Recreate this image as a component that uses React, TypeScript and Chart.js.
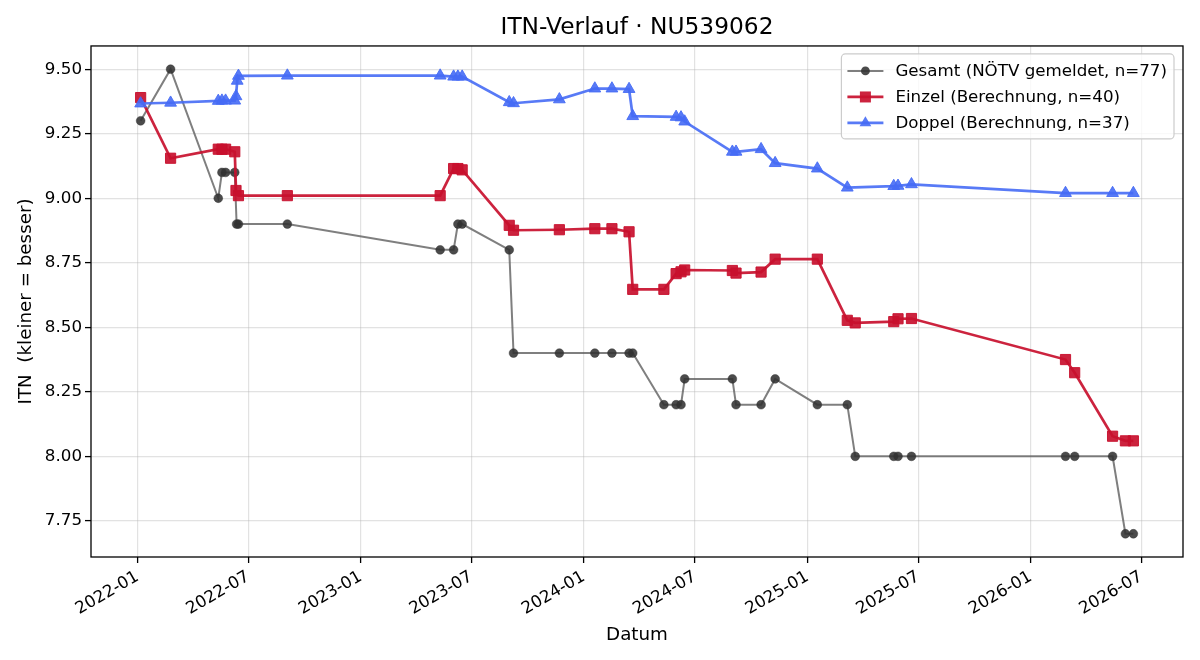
import React, { useEffect, useRef } from 'react';
import { Chart, registerables } from 'chart.js';

Chart.register(...registerables);

// ---------- data ----------
const gesamtDates = [
  '2022-01-06', '2022-02-24', '2022-05-13', '2022-05-19', '2022-05-25', '2022-06-09', '2022-06-12', '2022-06-15',
  '2022-09-03', '2023-05-11', '2023-06-02', '2023-06-09', '2023-06-16', '2023-09-01', '2023-09-08', '2023-11-22',
  '2024-01-19', '2024-02-16', '2024-03-15', '2024-03-21', '2024-05-11', '2024-05-31', '2024-06-08', '2024-06-14',
  '2024-08-31', '2024-09-06', '2024-10-17', '2024-11-09', '2025-01-17', '2025-03-07', '2025-03-20', '2025-05-22',
  '2025-05-29', '2025-06-20', '2026-02-27', '2026-03-14', '2026-05-15', '2026-06-05', '2026-06-18',
];
const gesamtValues = [
  9.3, 9.5, 9.0, 9.1, 9.1, 9.1, 8.9, 8.9,
  8.9, 8.8, 8.8, 8.9, 8.9, 8.8, 8.4, 8.4,
  8.4, 8.4, 8.4, 8.4, 8.2, 8.2, 8.2, 8.3,
  8.3, 8.2, 8.2, 8.3, 8.2, 8.2, 8.0, 8.0,
  8.0, 8.0, 8.0, 8.0, 8.0, 7.7, 7.7,
];

const einzelDates = [
  '2022-01-06', '2022-02-24', '2022-05-13', '2022-05-19', '2022-05-25', '2022-06-09', '2022-06-11', '2022-06-15',
  '2022-09-03', '2023-05-11', '2023-06-02', '2023-06-09', '2023-06-16', '2023-09-01', '2023-09-08', '2023-11-22',
  '2024-01-19', '2024-02-16', '2024-03-15', '2024-03-21', '2024-05-11', '2024-05-31', '2024-06-08', '2024-06-14',
  '2024-08-31', '2024-09-06', '2024-10-17', '2024-11-09', '2025-01-17', '2025-03-07', '2025-03-20', '2025-05-22',
  '2025-05-29', '2025-06-20', '2026-02-27', '2026-03-14', '2026-05-15', '2026-06-05', '2026-06-18',
];
const einzelValues = [
  9.39, 9.155, 9.19, 9.19, 9.19, 9.18, 9.03, 9.01,
  9.01, 9.01, 9.115, 9.115, 9.11, 8.895, 8.876, 8.878,
  8.882, 8.882, 8.87, 8.647, 8.647, 8.708, 8.715, 8.722,
  8.72, 8.71, 8.714, 8.764, 8.764, 8.527, 8.517, 8.522,
  8.533, 8.534, 8.375, 8.324, 8.078, 8.06, 8.06,
];

const doppelDates = [
  '2022-01-06', '2022-02-24', '2022-05-13', '2022-05-19', '2022-05-25', '2022-06-09', '2022-06-11', '2022-06-13',
  '2022-06-15', '2022-09-03', '2023-05-11', '2023-06-02', '2023-06-09', '2023-06-16', '2023-09-01', '2023-09-08',
  '2023-11-22', '2024-01-19', '2024-02-16', '2024-03-15', '2024-03-21', '2024-05-31', '2024-06-08', '2024-06-14',
  '2024-08-31', '2024-09-06', '2024-10-17', '2024-11-09', '2025-01-17', '2025-03-07', '2025-05-22', '2025-05-29',
  '2025-06-20', '2026-02-27', '2026-05-15', '2026-06-18',
];
const doppelValues = [
  9.367, 9.37, 9.377, 9.378, 9.378, 9.378, 9.395, 9.455,
  9.474, 9.475, 9.475, 9.471, 9.471, 9.471, 9.372, 9.368,
  9.383, 9.425, 9.425, 9.423, 9.318, 9.315, 9.313, 9.297,
  9.18, 9.18, 9.19, 9.136, 9.115, 9.041, 9.047, 9.048,
  9.054, 9.02, 9.02, 9.02,
];

const seriesLabels = [
  'Gesamt (NÖTV gemeldet, n=77)',
  'Einzel (Berechnung, n=40)',
  'Doppel (Berechnung, n=37)',
];

const xTickLabels = [
  '2022-01', '2022-07', '2023-01', '2023-07', '2024-01',
  '2024-07', '2025-01', '2025-07', '2026-01', '2026-07',
];
const yTickValues = [7.75, 8.0, 8.25, 8.5, 8.75, 9.0, 9.25, 9.5];

const titleText = 'ITN-Verlauf · NU539062';
const xTitle = 'Datum';
const yTitle = 'ITN  (kleiner = besser)';

// ---------- helpers ----------
const EPOCH = Date.UTC(2022, 0, 1);
function toDay(s: string): number {
  const [y, m, d] = s.split('-').map(Number);
  return (Date.UTC(y, m - 1, d || 1) - EPOCH) / 86400000;
}

const FONT = "'DejaVu Sans', 'Liberation Sans', sans-serif";
const GRID = 'rgba(176,176,176,0.36)';
const TICK_FS = 16.7;
const LABEL_FS = 18.3;
const TITLE_FS = 23.3;
const LEGEND_FS = 16.7;

const GRAY_LINE = 'rgba(95,95,95,0.8)';
const GRAY_PT = 'rgba(50,50,50,0.88)';
const RED = 'rgba(200,16,46,0.92)';
const BLUE = 'rgba(70,108,245,0.9)';

function drawMarker(ctx: CanvasRenderingContext2D, kind: string, x: number, y: number, color: string) {
  ctx.fillStyle = color;
  ctx.beginPath();
  if (kind === 'circle') {
    ctx.arc(x, y, 4.4, 0, Math.PI * 2);
  } else if (kind === 'rect') {
    ctx.rect(x - 5.5, y - 5.5, 11, 11);
  } else {
    const r = 6.8;
    ctx.moveTo(x, y - r);
    ctx.lineTo(x + r * Math.sin((2 * Math.PI) / 3), y - r * Math.cos((2 * Math.PI) / 3));
    ctx.lineTo(x + r * Math.sin((4 * Math.PI) / 3), y - r * Math.cos((4 * Math.PI) / 3));
    ctx.closePath();
  }
  ctx.fill();
}

const framePlugin = {
  id: 'frame',
  afterDatasetsDraw(chart: any) {
    const { ctx, chartArea: a } = chart;
    ctx.save();
    ctx.strokeStyle = '#000';
    ctx.lineWidth = 1.3;
    ctx.strokeRect(a.left, a.top, a.right - a.left, a.bottom - a.top);
    ctx.restore();
  },
};

const legendPlugin = {
  id: 'innerLegend',
  afterDatasetsDraw(chart: any) {
    const { ctx, chartArea: a } = chart;
    const styles = [
      { line: GRAY_LINE, pt: GRAY_PT, kind: 'circle', lw: 2 },
      { line: RED, pt: RED, kind: 'rect', lw: 2.7 },
      { line: BLUE, pt: BLUE, kind: 'triangle', lw: 2.7 },
    ];
    ctx.save();
    ctx.font = `${LEGEND_FS}px ${FONT}`;
    const textW = Math.max(...seriesLabels.map((t) => ctx.measureText(t).width));
    const w = 6 + 36 + 12 + textW + 7;
    const h = 85;
    const right = a.right - 9;
    const left = right - w;
    const top = a.top + 8;
    const r = 4;
    ctx.beginPath();
    ctx.moveTo(left + r, top);
    ctx.lineTo(right - r, top);
    ctx.arcTo(right, top, right, top + r, r);
    ctx.lineTo(right, top + h - r);
    ctx.arcTo(right, top + h, right - r, top + h, r);
    ctx.lineTo(left + r, top + h);
    ctx.arcTo(left, top + h, left, top + h - r, r);
    ctx.lineTo(left, top + r);
    ctx.arcTo(left, top, left + r, top, r);
    ctx.closePath();
    ctx.fillStyle = 'rgba(255,255,255,0.8)';
    ctx.fill();
    ctx.strokeStyle = '#cccccc';
    ctx.lineWidth = 1.2;
    ctx.stroke();
    seriesLabels.forEach((label, i) => {
      const y = top + 17 + i * 26;
      const s = styles[i];
      ctx.strokeStyle = s.line;
      ctx.lineWidth = s.lw;
      ctx.beginPath();
      ctx.moveTo(left + 6, y);
      ctx.lineTo(left + 42, y);
      ctx.stroke();
      drawMarker(ctx, s.kind, left + 24, y, s.pt);
      ctx.fillStyle = '#000';
      ctx.textAlign = 'left';
      ctx.textBaseline = 'middle';
      ctx.fillText(label, left + 54, y + 1);
    });
    ctx.restore();
  },
};

export default function App() {
  const ref = useRef<HTMLCanvasElement>(null);

  useEffect(() => {
    if (!ref.current) return;
    Chart.defaults.font.family = FONT;
    Chart.defaults.color = '#000';

    const gData = gesamtDates.map((d, i) => ({ x: toDay(d), y: gesamtValues[i] }));
    const eData = einzelDates.map((d, i) => ({ x: toDay(d), y: einzelValues[i] }));
    const dData = doppelDates.map((d, i) => ({ x: toDay(d), y: doppelValues[i] }));

    const allX = [...gData, ...eData, ...dData].map((p) => p.x);
    const allY = [...gData, ...eData, ...dData].map((p) => p.y);
    const xMin = Math.min(...allX), xMax = Math.max(...allX);
    const yMin = Math.min(...allY), yMax = Math.max(...allY);
    const xPad = (xMax - xMin) * 0.05;
    const yPad = (yMax - yMin) * 0.05;
    const xTickDays = xTickLabels.map((l) => toDay(l + '-01'));

    const chart = new Chart(ref.current, {
      type: 'line',
      data: {
        datasets: [
          {
            label: seriesLabels[0],
            data: gData,
            borderColor: GRAY_LINE,
            borderWidth: 2,
            pointStyle: 'circle',
            pointRadius: 4.4,
            pointBackgroundColor: GRAY_PT,
            pointBorderColor: GRAY_PT,
            pointBorderWidth: 0.5,
            tension: 0,
            order: 3,
          },
          {
            label: seriesLabels[1],
            data: eData,
            borderColor: RED,
            borderWidth: 2.7,
            pointStyle: 'rect',
            pointRadius: 7.2,
            pointBackgroundColor: RED,
            pointBorderColor: RED,
            pointBorderWidth: 1,
            tension: 0,
            order: 2,
          },
          {
            label: seriesLabels[2],
            data: dData,
            borderColor: BLUE,
            borderWidth: 2.7,
            pointStyle: 'triangle',
            pointRadius: 6.8,
            pointBackgroundColor: BLUE,
            pointBorderColor: BLUE,
            pointBorderWidth: 1,
            tension: 0,
            order: 1,
          },
        ],
      },
      options: {
        responsive: false,
        animation: false,
        events: [],
        layout: { padding: { left: 0, right: 17, top: 0, bottom: 0 } },
        plugins: {
          legend: { display: false },
          tooltip: { enabled: false },
          title: {
            display: true,
            fullSize: false,
            text: titleText,
            color: '#000',
            font: { size: TITLE_FS, weight: 'normal', family: FONT, lineHeight: 1.2 },
            padding: { top: 14, bottom: 4 },
          },
        },
        scales: {
          x: {
            type: 'linear',
            min: xMin - xPad,
            max: xMax + xPad,
            afterBuildTicks: (s: any) => {
              s.ticks = xTickDays.map((v) => ({ value: v }));
            },
            afterFit: (s: any) => {
              s.height = 103;
            },
            ticks: {
              autoSkip: false,
              minRotation: 30,
              maxRotation: 30,
              color: '#000',
              padding: 4,
              font: { size: TICK_FS, family: FONT },
              callback: (_v: any, i: number) => xTickLabels[i],
            },
            grid: { color: GRID, lineWidth: 1.2, tickColor: '#000', tickLength: 6, tickWidth: 1.3 },
            border: { display: false },
            title: {
              display: true,
              text: xTitle,
              color: '#000',
              font: { size: LABEL_FS, family: FONT, lineHeight: 1.2 },
              padding: { top: 0, bottom: 14 },
            },
          },
          y: {
            type: 'linear',
            min: yMin - yPad,
            max: yMax + yPad,
            afterBuildTicks: (s: any) => {
              s.ticks = yTickValues.map((v) => ({ value: v }));
            },
            afterFit: (s: any) => {
              s.width = 91;
            },
            ticks: {
              color: '#000',
              padding: 3,
              font: { size: TICK_FS, family: FONT },
              callback: (v: any) => Number(v).toFixed(2),
            },
            grid: { color: GRID, lineWidth: 1.2, tickColor: '#000', tickLength: 6, tickWidth: 1.3 },
            border: { display: false },
            title: {
              display: true,
              text: yTitle,
              color: '#000',
              font: { size: LABEL_FS, family: FONT, lineHeight: 1.2 },
              padding: { top: 15, bottom: 0 },
            },
          },
        },
      },
      plugins: [framePlugin, legendPlugin],
    } as any);

    return () => chart.destroy();
  }, []);

  return (
    <div style={{ position: 'absolute', left: 0, top: 0, width: 1200, height: 660, background: '#fff' }}>
      <canvas ref={ref} width={1200} height={660} style={{ display: 'block', width: 1200, height: 660 }} />
    </div>
  );
}
